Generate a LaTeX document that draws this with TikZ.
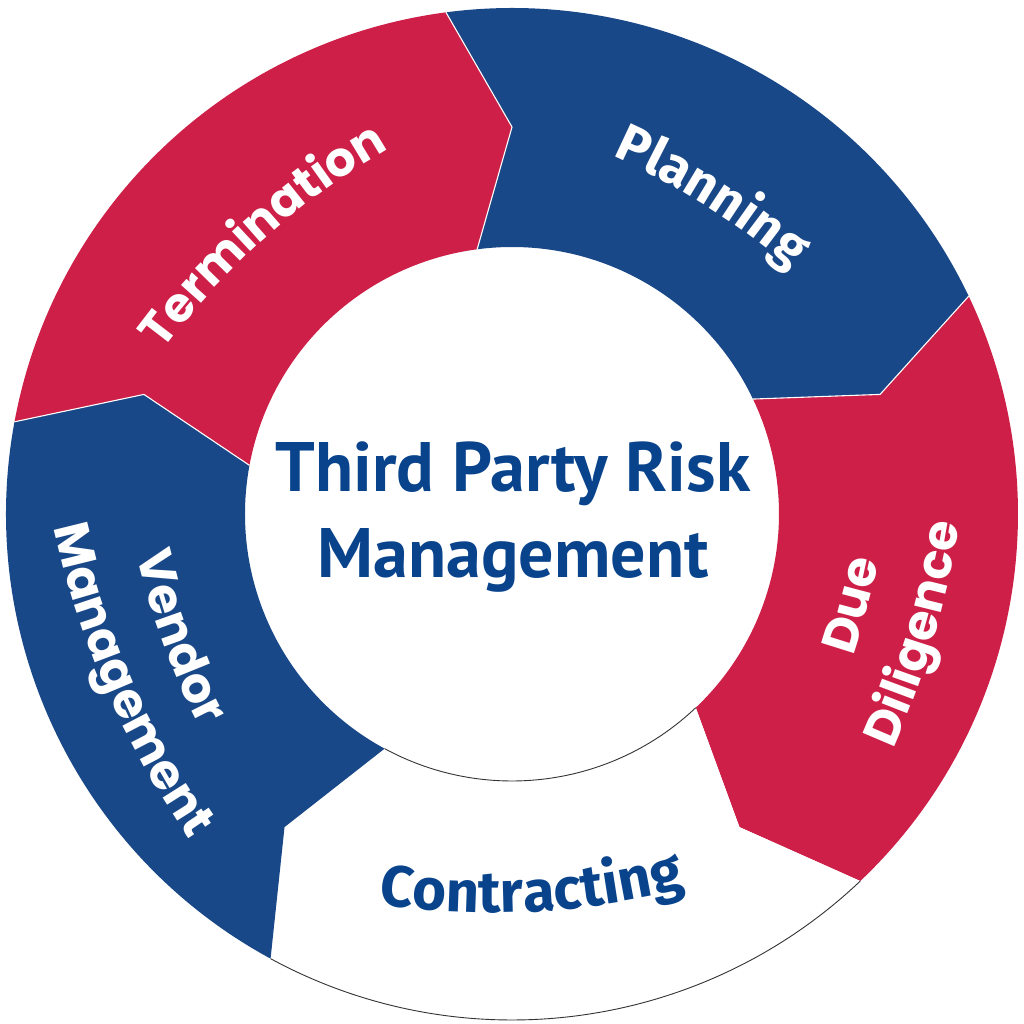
\documentclass[tikz,border=0pt]{standalone}
\usepackage{fontspec}
\usetikzlibrary{decorations.text,calc}
\newfontfamily\ptsans{PT Sans}
\newfontfamily\firafont{Fira Sans}
\newfontfamily\popfont{Poppins}
\definecolor{tpred}{RGB}{205,31,71}
\definecolor{tpblue}{RGB}{25,72,136}
\definecolor{tptext}{RGB}{8,67,140}
\tikzset{
  arctext/.style={decorate, decoration={text along path, text align=center, text color=#1}},
}
\begin{document}
\begin{tikzpicture}[x=1pt,y=1pt]
\useasboundingbox (-512,-510) rectangle (512,514);
\def\Ro{506}\def\Ri{267}\def\Rm{387}\def\off{7.5}
% segments
\foreach \a/\c in {97.5/tpblue, 25.5/tpred, -46.5/white, -118.5/tpblue, 169.5/tpred}{
  \fill[\c] (\a:\Ro) arc[start angle=\a, end angle={\a-72}, radius=\Ro]
     -- ({\a-72-\off}:\Rm) -- ({\a-72}:\Ri)
     arc[start angle={\a-72}, end angle=\a, radius=\Ri]
     -- ({\a-\off}:\Rm) -- cycle;
}
% separators
\foreach \a in {97.5, 25.5, 169.5}{
  \draw[white, line width=1.1] (\a:\Ro) -- ({\a-\off}:\Rm) -- (\a:\Ri);
}
% contracting outline
\draw[black!80, line width=0.9] (-46.5:\Ro) arc[start angle=-46.5, end angle=-118.5, radius=\Ro];
\draw[black!80, line width=0.9] (-46.5:\Ri) arc[start angle=-46.5, end angle=-118.5, radius=\Ri];
% ring labels (curved)
\path[arctext=white, decoration={text={|\firafont\bfseries\fontsize{53}{60}\selectfont|Planning}}]
  ($(237.8:364)+(77.8:728)$) arc[start angle=77.8, end angle=37.8, radius=728];
\path[arctext=white, decoration={text={|\popfont\bfseries\fontsize{48}{60}\selectfont|Termination}}]
  ($(311.8:370)+(151.8:740)$) arc[start angle=151.8, end angle=111.8, radius=740];
\path[arctext=white, decoration={text={|\popfont\bfseries\fontsize{49}{60}\selectfont|Vendor}}]
  ($(20.3:372)+(180.3:744)$) arc[start angle=180.3, end angle=220.3, radius=744];
\path[arctext=white, decoration={text={|\popfont\bfseries\fontsize{49}{60}\selectfont|Management}}]
  ($(23.5:442)+(183.5:884)$) arc[start angle=183.5, end angle=223.5, radius=884];
\path[arctext=white, decoration={text={|\popfont\bfseries\fontsize{49}{60}\selectfont|Due}}]
  ($(165:368)+(-35:736)$) arc[start angle=-35, end angle=5, radius=736];
\path[arctext=white, decoration={text={|\popfont\bfseries\fontsize{49}{60}\selectfont|Diligence}}]
  ($(163.5:440)+(-36.5:880)$) arc[start angle=-36.5, end angle=3.5, radius=880];
\path[arctext=tptext, decoration={text={|\firafont\bfseries\fontsize{58}{60}\selectfont|Contracting}}]
  ($(93:398)+(-107:796)$) arc[start angle=-107, end angle=-67, radius=796];
% centre
\node[align=center, inner sep=0pt, text=tptext, font=\ptsans\bfseries\fontsize{70}{86}\selectfont] (center) at (1,-3) {Third Party Risk\\Management};
\end{tikzpicture}
\end{document}
